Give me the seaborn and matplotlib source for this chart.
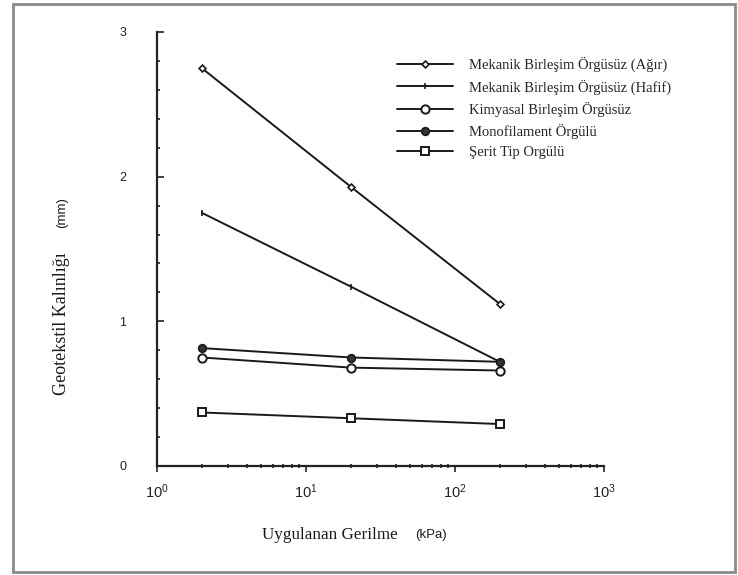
import matplotlib
matplotlib.use("Agg")
import matplotlib.pyplot as plt
from matplotlib.patches import Rectangle
from matplotlib.ticker import LogLocator, MultipleLocator
import numpy as np
import pandas as pd
import seaborn as sns

# Applied stress (kPa)
stress = [2, 20, 200]

# Geotextile thickness (mm) per product type
series_names = [
    "Mekanik Birleşim Örgüsüz (Ağır)",
    "Mekanik Birleşim Örgüsüz (Hafif)",
    "Kimyasal Birleşim Örgüsüz",
    "Monofilament Örgülü",
    "Şerit Tip Orgülü",
]
agir = [2.75, 1.93, 1.12]
hafif = [1.75, 1.24, 0.72]
kimyasal = [0.75, 0.68, 0.66]
monofilament = [0.815, 0.75, 0.72]
serit = [0.37, 0.33, 0.29]
values = [agir, hafif, kimyasal, monofilament, serit]

styles = {
    series_names[0]: dict(marker="D", markersize=3.5, markerfacecolor="white", markeredgewidth=1.2),
    series_names[1]: dict(marker="|", markersize=4, markeredgewidth=1.2),
    series_names[2]: dict(marker="o", markersize=6, markerfacecolor="white", markeredgewidth=1.4),
    series_names[3]: dict(marker="o", markersize=5.5, markerfacecolor="#333333", markeredgewidth=1.2),
    series_names[4]: dict(marker="s", markersize=6, markerfacecolor="white", markeredgewidth=1.4),
}

df = pd.DataFrame({
    "stress": np.tile(stress, len(series_names)),
    "thickness": np.concatenate(values),
    "series": np.repeat(series_names, len(stress)),
})

sns.set_style("ticks")
plt.rcParams["font.family"] = ["Liberation Sans", "DejaVu Sans"]

fig = plt.figure(figsize=(7.38, 5.75), dpi=100)
ax = fig.add_axes([157 / 738, 1 - 466 / 575, 447 / 738, 434 / 575])

for name in series_names:
    sub = df[df["series"] == name]
    sns.lineplot(data=sub, x="stress", y="thickness", ax=ax, color="#1a1a1a",
                 linewidth=1.4, markeredgecolor="#1a1a1a", label=name, **styles[name])

ax.set_xscale("log")
ax.set_xlim(1, 1000)
ax.set_ylim(0, 3)
ax.yaxis.set_major_locator(MultipleLocator(1))
ax.yaxis.set_minor_locator(MultipleLocator(0.2))
ax.xaxis.set_major_locator(LogLocator(base=10, numticks=10))
ax.xaxis.set_minor_locator(LogLocator(base=10, subs=np.arange(2, 10), numticks=10))

for s in ["top", "right"]:
    ax.spines[s].set_visible(False)
for s in ["left", "bottom"]:
    ax.spines[s].set_color("#222222")
    ax.spines[s].set_linewidth(1.6)

ax.tick_params(axis="y", which="major", direction="in", length=5, width=1.2,
               labelsize=9, color="#222222", labelcolor="#222222", pad=22)
ax.tick_params(axis="y", which="minor", direction="in", length=2.5, width=1.2, color="#222222")
ax.tick_params(axis="x", which="major", direction="out", length=4, width=1.2,
               labelsize=10.5, color="#222222", labelcolor="#222222", pad=8)
ax.tick_params(axis="x", which="minor", direction="inout", length=3, width=1.2, color="#222222")
ax.set_xlabel("")
ax.set_ylabel("")

leg = ax.legend(loc="upper left", bbox_to_anchor=(384 / 738, 1 - 44 / 575),
                bbox_transform=fig.transFigure, frameon=False, handlelength=3.8,
                handletextpad=1.1, labelspacing=0.48,
                prop={"family": "Liberation Serif", "size": 10.5})

# Axis titles: serif words with sans units
fig.text(330 / 738, 1 - 535 / 575, "Uygulanan Gerilme", family="Liberation Serif",
         fontsize=12.3, ha="center", va="center", color="#1a1a1a")
fig.text(431 / 738, 1 - 535 / 575, "(kPa)", family="Liberation Sans",
         fontsize=9.5, ha="center", va="center", color="#1a1a1a")
fig.text(62 / 738, 1 - 324 / 575, "Geotekstil Kalınlığı", family="Liberation Serif",
         fontsize=13, ha="center", va="center", rotation=90, color="#1a1a1a")
fig.text(62 / 738, 1 - 213 / 575, "(mm)", family="Liberation Sans",
         fontsize=9.5, ha="center", va="center", rotation=90, color="#1a1a1a")

# Frame around the whole figure
fig.patches.append(Rectangle((13 / 738, 3 / 575), 722 / 738, 568 / 575,
                             transform=fig.transFigure, fill=False,
                             edgecolor="#8a8a8a", linewidth=2))

fig.savefig("out.png", dpi=100)
